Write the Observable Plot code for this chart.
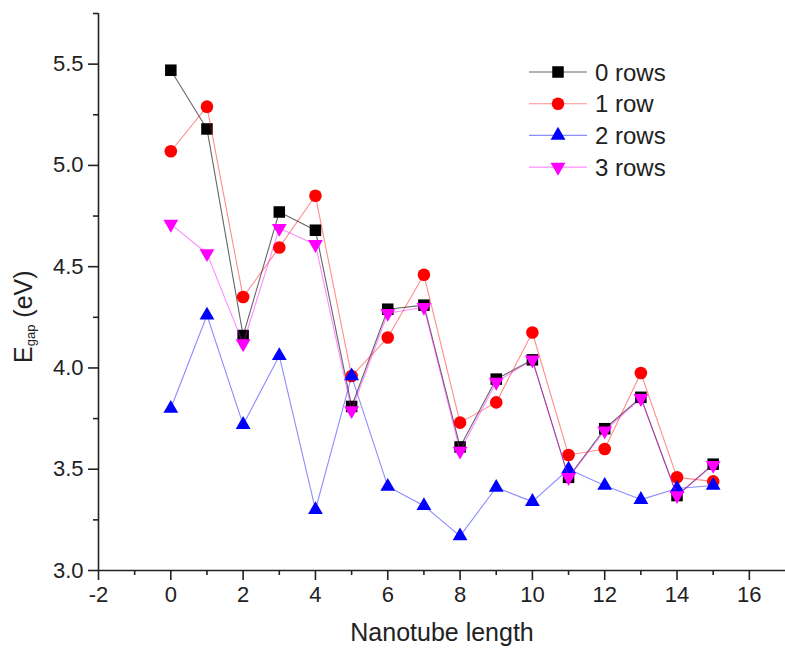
<!DOCTYPE html>
<html>
<head>
<meta charset="utf-8">
<script src="https://cdn.jsdelivr.net/npm/d3@7"></script>
<script src="https://cdn.jsdelivr.net/npm/@observablehq/plot@0.6"></script>
<style>
  body { margin: 0; background: #fff; }
  #chart svg { display: block; }
</style>
</head>
<body>
<div id="chart"></div>
<script>
// Band gap versus nanotube length for 0–3 rows
const lengths = [0, 1, 2, 3, 4, 5, 6, 7, 8, 9, 10, 11, 12, 13, 14, 15];
const rows0 = [5.47, 5.18, 4.16, 4.77, 4.68, 3.81, 4.29, 4.31, 3.61, 3.945, 4.04, 3.46, 3.70, 3.855, 3.37, 3.525];
const rows1 = [5.07, 5.29, 4.35, 4.595, 4.85, 3.96, 4.15, 4.46, 3.73, 3.83, 4.175, 3.57, 3.60, 3.975, 3.46, 3.44];
const rows2 = [3.80, 4.26, 3.72, 4.06, 3.30, 3.96, 3.415, 3.32, 3.17, 3.41, 3.34, 3.50, 3.42, 3.35, 3.405, 3.42];
const rows3 = [4.71, 4.565, 4.12, 4.69, 4.61, 3.79, 4.27, 4.30, 3.59, 3.93, 4.04, 3.46, 3.69, 3.85, 3.37, 3.52];

const seriesNames = ["0 rows", "1 row", "2 rows", "3 rows"];
const seriesValues = [rows0, rows1, rows2, rows3];
const seriesColors = ["#000000", "#ff0000", "#0000ff", "#ff00ff"];
const seriesSymbols = ["square", "circle", "triangle", "triangle"];
const seriesRotate = [0, 0, 0, 180];
const seriesRadius = [6.5, 6.3, 5.5, 5.5];

const xTicks = [-2, 0, 2, 4, 6, 8, 10, 12, 14, 16];
const xMinorTicks = [-1, 1, 3, 5, 7, 9, 11, 13, 15];
const yTicks = [3.0, 3.5, 4.0, 4.5, 5.0, 5.5];
const yMinorTicks = [3.25, 3.75, 4.25, 4.75, 5.25, 5.75];

const xTitle = "Nanotube length";

const axisColor = "#222";
const fontFamily = "'Liberation Sans', Arial, Helvetica, sans-serif";

// one small table per series
const tables = seriesValues.map((vals, i) =>
  lengths.map((x, j) => ({x, y: vals[j], series: seriesNames[i]}))
);

const seriesMarks = tables.flatMap((t, i) => [
  Plot.line(t, {x: "x", y: "y", stroke: seriesColors[i], strokeWidth: 1.1, strokeOpacity: i === 0 ? 0.6 : 0.45}),
  Plot.dot(t, {x: "x", y: "y", symbol: seriesSymbols[i], r: seriesRadius[i], fill: seriesColors[i], stroke: "none", rotate: seriesRotate[i]})
]);

const chart = Plot.plot({
  width: 785,
  height: 651,
  marginLeft: 98,
  marginRight: 0,
  marginTop: 13,
  marginBottom: 81,
  x: {domain: [-2, 17]},
  y: {domain: [3, 5.75]},
  style: {fontFamily, fontSize: "22px", color: axisColor, background: "#fff"},
  marks: [
    Plot.ruleY([3], {stroke: axisColor, strokeWidth: 1.6}),
    Plot.ruleX([-2], {stroke: axisColor, strokeWidth: 1.6}),
    Plot.axisY(yTicks, {tickSize: 10, tickPadding: 5, strokeWidth: 1.6, tickFormat: d3.format(".1f"), label: null}),
    Plot.axisY(yMinorTicks, {tickSize: 5, strokeWidth: 1.6, tickFormat: () => "", label: null}),
    Plot.axisX(xTicks, {tickSize: 10, tickPadding: 6, strokeWidth: 1.6, tickFormat: d => String(d), label: null}),
    Plot.axisX(xMinorTicks, {tickSize: 5, strokeWidth: 1.6, tickFormat: () => "", label: null}),
    ...seriesMarks,
    Plot.text([xTitle], {frameAnchor: "bottom", dy: 70, fontSize: 25, fill: axisColor})
  ]
});

document.getElementById("chart").appendChild(chart);

const svg = d3.select(chart);

// y-axis title with subscript
const yTitle = svg.append("text")
  .attr("transform", "translate(32,363) rotate(-90)")
  .attr("text-anchor", "start")
  .attr("fill", axisColor)
  .style("font-family", fontFamily)
  .style("font-size", "25px");
yTitle.append("tspan").text("E");
yTitle.append("tspan").attr("dy", 3).style("font-size", "13px").text("gap");
yTitle.append("tspan").attr("dy", -3).text(" (eV)");

// legend in the upper right of the plotting area
const legend = svg.append("g").attr("transform", "translate(529,72)");
seriesNames.forEach((name, i) => {
  const row = legend.append("g").attr("transform", `translate(0,${i * 31.7})`);
  row.append("line")
    .attr("x1", 0).attr("x2", 58).attr("y1", 0).attr("y2", 0)
    .attr("stroke", seriesColors[i]).attr("stroke-width", 1.1)
    .attr("stroke-opacity", i === 0 ? 0.6 : 0.45);
  const symbolType = {square: d3.symbolSquare, circle: d3.symbolCircle, triangle: d3.symbolTriangle}[seriesSymbols[i]];
  row.append("path")
    .attr("d", d3.symbol(symbolType, Math.PI * seriesRadius[i] ** 2)())
    .attr("transform", `translate(29,0) rotate(${seriesRotate[i]})`)
    .attr("fill", seriesColors[i]);
  row.append("text")
    .attr("x", 66).attr("y", 0).attr("dy", "0.36em")
    .attr("text-anchor", "start")
    .attr("fill", axisColor)
    .style("font-family", fontFamily)
    .style("font-size", "24px")
    .text(name);
});
</script>
</body>
</html>
